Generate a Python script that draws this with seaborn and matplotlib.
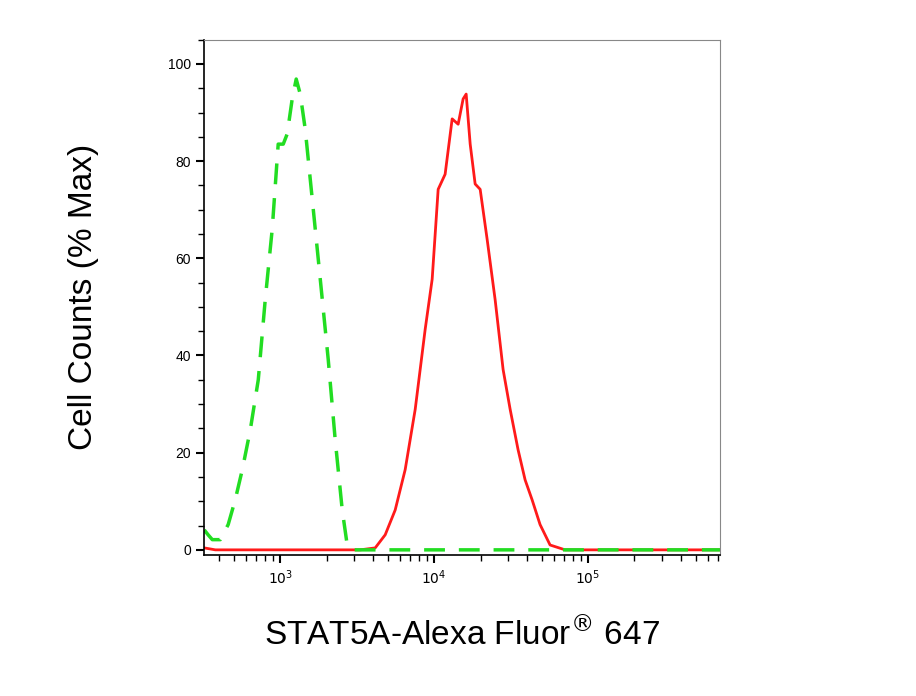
import numpy as np
import pandas as pd
import seaborn as sns
import matplotlib
matplotlib.use("Agg")
import matplotlib.pyplot as plt
from matplotlib.ticker import LogLocator, MultipleLocator, FixedLocator

green_x = [321, 340, 362, 408, 459, 510, 567, 639, 720, 799, 887, 970, 1046, 1110, 1196, 1270,
           1349, 1453, 1614, 1820, 2050, 2275, 2528, 2723, 2937, 719000]
green_y = [4.1, 3.1, 2.1, 2.1, 5.2, 10.3, 16.5, 24.7, 35, 51.5, 66, 83.5, 83.5, 85.6, 92.8, 96.9,
           93.8, 86.6, 72.2, 55.7, 39.2, 22.7, 8.2, 1, 0, 0]
red_x = [321, 379, 1161, 3306, 4140, 4808, 5582, 6481, 7529, 8743, 9706, 10617, 11780, 13090, 14320,
         15420, 16140, 17140, 18460, 19900, 22090, 24890, 28050, 31170, 35090, 38980, 43280, 48760,
         56620, 70900, 719000]
red_y = [0.4, 0, 0, 0, 0.4, 3.1, 8.2, 16.5, 28.9, 45.4, 55.7, 74.2, 77.3, 88.7, 87.6, 92.8, 93.8,
         83.5, 75.3, 74.2, 63.9, 51.5, 37.1, 28.9, 20.6, 14.4, 10.3, 5.2, 1, 0, 0]

sns.set_style("white")
plt.rcParams['font.family'] = ['Liberation Sans', 'DejaVu Sans']

fig = plt.figure(figsize=(9.16, 6.96), dpi=100)
ax = fig.add_axes([0.223, 0.203, 0.563, 0.740])

sns.lineplot(x=red_x, y=red_y, ax=ax, color="#ff1a1a", lw=2, sort=False)
g = sns.lineplot(x=green_x, y=green_y, ax=ax, color="#22dd22", lw=2.5, sort=False)
g.lines[-1].set_dashes([6, 4])

ax.set_xscale("log")
ax.set_xlim(321, 719000)
ax.set_ylim(-1, 105)
ax.xaxis.set_major_locator(FixedLocator([1e3, 1e4, 1e5]))
ax.xaxis.set_minor_locator(LogLocator(base=10, subs=np.arange(2, 10)))
ax.xaxis.set_minor_formatter(matplotlib.ticker.NullFormatter())
ax.set_xticks([1e3, 1e4, 1e5])
ax.set_xticklabels([r"$10^3$", r"$10^4$", r"$10^5$"])
ax.yaxis.set_major_locator(MultipleLocator(20))
ax.yaxis.set_minor_locator(MultipleLocator(5))
ax.tick_params(axis="both", which="major", direction="out", length=6, width=1.5,
               labelsize=10, color="black", labelcolor="black", bottom=True, left=True)
ax.tick_params(axis="both", which="minor", direction="out", length=4, width=1,
               color="black", bottom=True, left=True)
for s in ["top", "right"]:
    ax.spines[s].set_color("#888888")
for s in ["left", "bottom"]:
    ax.spines[s].set_color("black")
    ax.spines[s].set_linewidth(1.2)

ax.set_xlabel("STAT5A-Alexa Fluor$^{®}$ 647", fontsize=24, labelpad=22, color="black")
ax.set_ylabel("Cell Counts (% Max)", fontsize=24, labelpad=50, color="black")
fig.savefig("out.png", dpi=100)
